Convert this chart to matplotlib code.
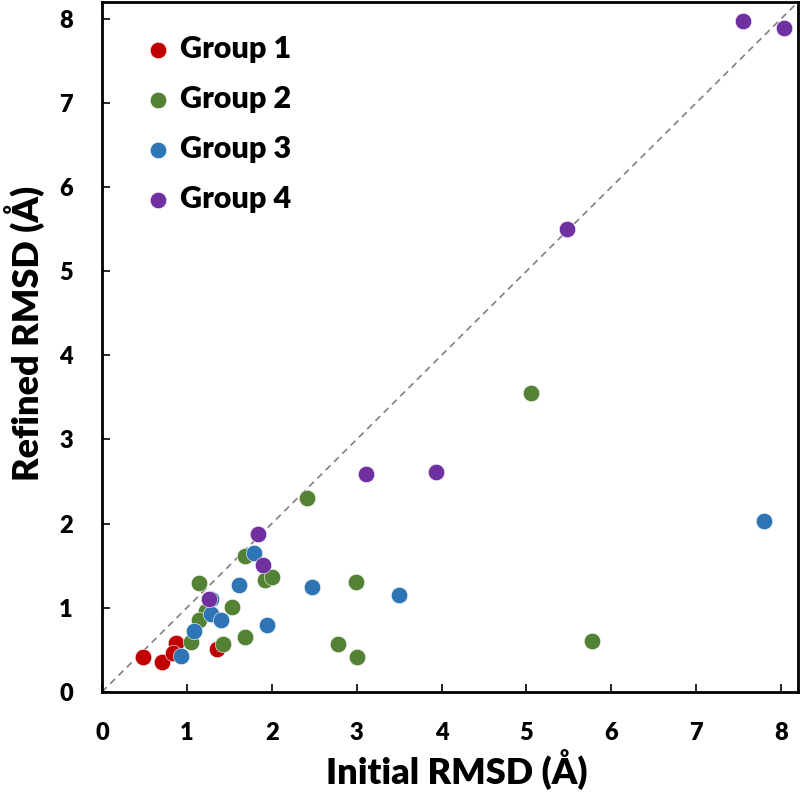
import numpy as np
import matplotlib.pyplot as plt

# ---- data ----
g1_x = [0.48, 0.71, 0.87, 0.84, 1.35]
g1_y = [0.41, 0.35, 0.58, 0.46, 0.51]

g2_x = [2.41, 1.68, 1.14, 1.92, 2.00, 2.99, 1.53, 1.22, 1.14, 1.05, 1.42, 1.69, 2.78, 3.01, 5.77, 5.06]
g2_y = [2.30, 1.61, 1.29, 1.33, 1.37, 1.31, 1.01, 0.96, 0.86, 0.59, 0.57, 0.65, 0.57, 0.41, 0.61, 3.55]

g3_x = [1.79, 1.61, 2.48, 3.50, 1.29, 1.28, 1.40, 1.08, 1.94, 0.93, 7.80]
g3_y = [1.65, 1.27, 1.25, 1.15, 1.10, 0.93, 0.86, 0.72, 0.80, 0.43, 2.03]

g4_x = [1.84, 1.90, 1.26, 3.11, 3.94, 5.48, 7.55, 8.03]
g4_y = [1.88, 1.51, 1.10, 2.59, 2.61, 5.50, 7.97, 7.89]

groups = [
    ("Group 1", g1_x, g1_y, "#C00000"),
    ("Group 2", g2_x, g2_y, "#548235"),
    ("Group 3", g3_x, g3_y, "#2E75B6"),
    ("Group 4", g4_x, g4_y, "#7030A0"),
]

AX_MAX = 8.2
TICKS = np.arange(0, 9)
WEIGHT = "heavy"

plt.rcParams['font.family'] = ['Lato', 'DejaVu Sans']
plt.rcParams['font.weight'] = WEIGHT

fig = plt.figure(figsize=(8, 7.98), dpi=100)
ax = fig.add_axes([0.1275, 0.133, 0.87, 0.8645])

# y = x reference line
ax.plot([0, AX_MAX], [0, AX_MAX], ls=(0, (4, 3)), color="#808080", lw=1.2, zorder=1)

for name, xs, ys, col in groups:
    ax.scatter(xs, ys, s=140, color=col, edgecolors="white", linewidths=0.4,
               label=name, zorder=2)

ax.set_xlim(0, AX_MAX)
ax.set_ylim(0, AX_MAX)
ax.set_xticks(TICKS)
ax.set_yticks(TICKS)

for sp in ax.spines.values():
    sp.set_linewidth(2)
ax.tick_params(direction="in", length=6, width=1.2, labelsize=17)
ax.tick_params(axis="x", pad=22)
ax.tick_params(axis="y", pad=21)
for lbl in ax.get_xticklabels() + ax.get_yticklabels():
    lbl.set_fontweight(WEIGHT)

ax.set_xlabel("Initial RMSD (Å)", fontsize=26, fontweight=WEIGHT)
ax.set_ylabel("Refined RMSD (Å)", fontsize=26, fontweight=WEIGHT)
ax.xaxis.set_label_coords(0.51, -0.083)
ax.yaxis.set_label_coords(-0.082, 0.52)

leg = ax.legend(loc="upper left", frameon=False, fontsize=22, markerscale=1.0,
                handlelength=1.0, handletextpad=0.2, labelspacing=0.72,
                borderaxespad=0.0, borderpad=0.0,
                bbox_to_anchor=(0.059, 0.952))
for t in leg.get_texts():
    t.set_fontweight(WEIGHT)

fig.savefig("out.png", dpi=100)
